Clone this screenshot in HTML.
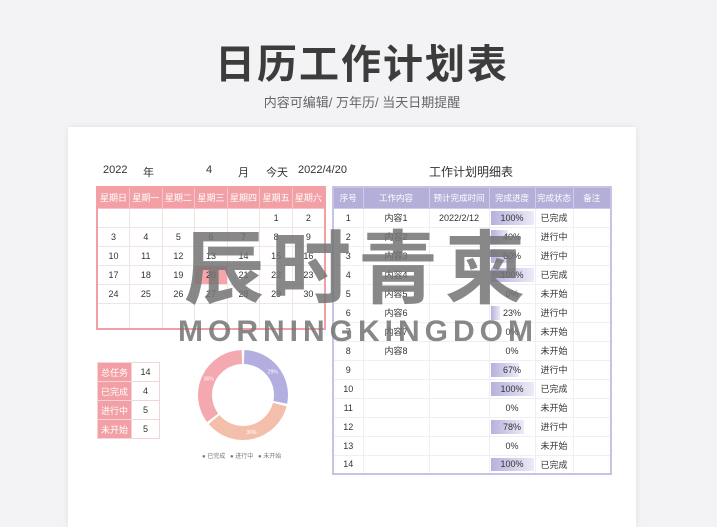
<!DOCTYPE html>
<html><head><meta charset="utf-8"><style>
*{margin:0;padding:0;box-sizing:border-box}
body{width:717px;height:507px;background:#f3f3f5;font-family:"Liberation Sans","Noto Sans CJK SC",sans-serif;position:relative;overflow:hidden;color:#333}
.abs{position:absolute}
table{border-collapse:collapse;position:absolute;font-size:9px;table-layout:fixed}
td,th{text-align:center;padding:0;font-weight:normal}
#cal td{border:1px solid #f1e4e4;height:19px}
#cal th{background:#f2a0a5;color:#fff;height:21px;border:1px solid #f7c5c8;font-size:9px}
#cal{border:2px solid #f2a0a5}
#plan th{background:#b3afd8;color:#fff;height:21px;border:1px solid #cfcbe8;font-size:8.5px}
#plan td{border:1px solid #efeef5;height:19px}
#plan{border:2px solid #c7c3e2}
.bar{position:relative}
.bar span{position:absolute;left:1px;top:2px;bottom:2px;background:linear-gradient(90deg,#b6b1dc,#ecebf7)}
.bar b{position:relative;font-weight:normal}
#sum td{height:19px;border:1px solid #f5d4d6;font-size:9px}
#sum td:first-child{background:#f2a0a5;color:#fff;width:34px}
#sum td:last-child{width:28px;background:#fff}
</style></head><body>
<div class="abs" style="left:0;width:724px;top:32px;text-align:center;font-size:40px;color:#3c3c3c;font-weight:bold;letter-spacing:2px">日历工作计划表</div>
<div class="abs" style="left:0;width:724px;top:92px;text-align:center;font-size:13px;color:#666">内容可编辑/ 万年历/ 当天日期提醒</div>
<div class="abs" style="left:68px;top:127px;width:568px;height:400px;background:#fff;box-shadow:0 0 6px rgba(0,0,0,.08)"></div>

<div class="abs" style="left:100px;top:164px;font-size:11px;width:230px;height:14px">
<span class="abs" style="left:3px">2022</span><span class="abs" style="left:43px">年</span><span class="abs" style="left:106px">4</span><span class="abs" style="left:138px">月</span><span class="abs" style="left:166px">今天</span><span class="abs" style="left:198px">2022/4/20</span></div>

<table id="cal" style="left:96px;top:186px;width:230px">
<tr><th>星期日</th><th>星期一</th><th>星期二</th><th>星期三</th><th>星期四</th><th>星期五</th><th>星期六</th></tr>
<tr><td></td><td></td><td></td><td></td><td></td><td>1</td><td>2</td></tr>
<tr><td>3</td><td>4</td><td>5</td><td>6</td><td>7</td><td>8</td><td>9</td></tr>
<tr><td>10</td><td>11</td><td>12</td><td>13</td><td>14</td><td>15</td><td>16</td></tr>
<tr><td>17</td><td>18</td><td>19</td><td style="background:#f6a6aa">20</td><td>21</td><td>22</td><td>23</td></tr>
<tr><td>24</td><td>25</td><td>26</td><td>27</td><td>28</td><td>29</td><td>30</td></tr>
<tr><td style="height:26px"></td><td></td><td></td><td></td><td></td><td></td><td></td></tr>
</table>

<div class="abs" style="left:332px;width:278px;top:163px;text-align:center;font-size:12px">工作计划明细表</div>
<table id="plan" style="left:332px;top:186px;width:278px">
<colgroup><col style="width:30px"><col style="width:66px"><col style="width:60px"><col style="width:46px"><col style="width:38px"><col style="width:38px"></colgroup>
<tr><th>序号</th><th>工作内容</th><th>预计完成时间</th><th>完成进度</th><th>完成状态</th><th>备注</th></tr>
<tbody id="rows"></tbody></table>

<table id="sum" style="left:97px;top:362px;border:1px solid #f2a0a5">
<tr><td>总任务</td><td>14</td></tr><tr><td>已完成</td><td>4</td></tr><tr><td>进行中</td><td>5</td></tr><tr><td>未开始</td><td>5</td></tr></table>

<svg class="abs" style="left:180px;top:340px" width="130" height="125" id="donut"></svg>

<div class="abs" style="left:184px;top:222px;font-size:80px;font-weight:bold;color:rgba(115,115,115,.85);letter-spacing:7px;line-height:96px">辰时青柬</div>
<div class="abs" style="left:178px;top:315px;font-size:30px;font-weight:bold;color:rgba(115,115,115,.85);letter-spacing:5px">MORNINGKINGDOM</div>

<script>
const ids=[1,2,3,4,5,6,7,8,9,10,11,12,13,14];
const contents=["内容1","内容2","内容3","内容4","内容5","内容6","内容7","内容8","","","","","",""];
const dates=["2022/2/12","","","","","","","","","","","","",""];
const progress=[100,40,60,100,0,23,0,0,67,100,0,78,0,100];
const statuses=["已完成","进行中","进行中","已完成","未开始","进行中","未开始","未开始","进行中","已完成","未开始","进行中","未开始","已完成"];
const tb=document.getElementById('rows');
ids.forEach((id,i)=>{
 const tr=document.createElement('tr');
 
 
 tr.innerHTML=`<td>${id}</td><td>${contents[i]}</td><td>${dates[i]}</td><td class="bar"><span style="width:${progress[i]*0.43}px"></span><b>${progress[i]}%</b></td><td>${statuses[i]}</td><td></td>`;
 tb.appendChild(tr);
});
const sliceLabels=["已完成","进行中","未开始"];
const sliceValues=[4,5,5];
const sliceColors=["#b2aee0","#f4bfaa","#f4a9b0"];
const svg=document.getElementById('donut');
const cx=63,cy=55,R=45,r=31;
const total=sliceValues.reduce((a,b)=>a+b,0);
let a0=0;
const NS='http://www.w3.org/2000/svg';
sliceValues.forEach((v,i)=>{
 const a1=a0+v/total*2*Math.PI;
 const g=0.03;
 const p=(ang,rad)=>[cx+rad*Math.sin(ang),cy-rad*Math.cos(ang)];
 const s=a0+g,e=a1-g,large=(e-s)>Math.PI?1:0;
 const [x1,y1]=p(s,R),[x2,y2]=p(e,R),[x3,y3]=p(e,r),[x4,y4]=p(s,r);
 const path=document.createElementNS(NS,'path');
 path.setAttribute('d',`M${x1},${y1}A${R},${R} 0 ${large} 1 ${x2},${y2}L${x3},${y3}A${r},${r} 0 ${large} 0 ${x4},${y4}Z`);
 path.setAttribute('fill',sliceColors[i]);
 
 
 svg.appendChild(path);
 const [tx,ty]=p((a0+a1)/2,(R+r)/2);
 const t=document.createElementNS(NS,'text');
 t.setAttribute('x',tx);t.setAttribute('y',ty+2);t.setAttribute('font-size','5');t.setAttribute('fill','#fff');t.setAttribute('text-anchor','middle');
 t.textContent=Math.round(v/total*100)+'%';
 
 
 svg.appendChild(t);
 const lg=document.createElementNS(NS,'text');
 lg.setAttribute('x',22+i*28);lg.setAttribute('y',118);lg.setAttribute('font-size','6');lg.setAttribute('fill','#777');
 lg.textContent='● '+sliceLabels[i];
 
 
 svg.appendChild(lg);
 a0=a1;
});
</script>
</body></html>
